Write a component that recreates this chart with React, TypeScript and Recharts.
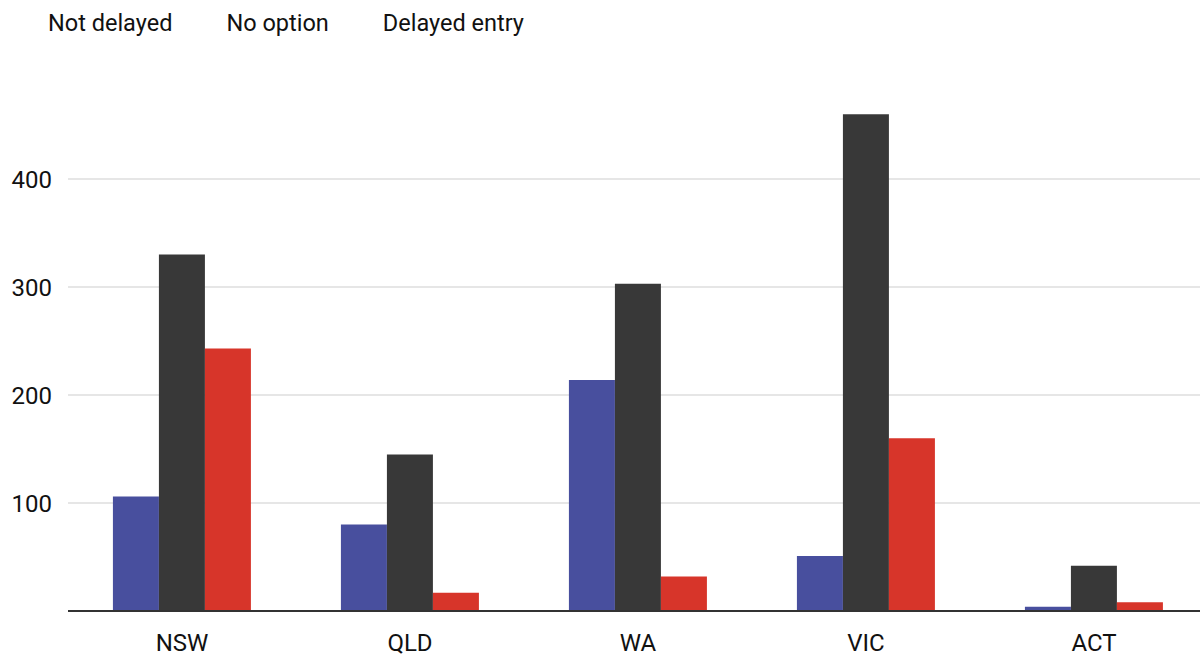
import { BarChart, Bar, XAxis, YAxis, CartesianGrid } from 'recharts';

const states = ['NSW', 'QLD', 'WA', 'VIC', 'ACT'];
const notDelayed = [106, 80, 214, 51, 4];
const noOption = [330, 145, 303, 460, 42];
const delayedEntry = [243, 17, 32, 160, 8];
const yTicks = [100, 200, 300, 400];

const series = [
  { key: 'notDelayed', name: 'Not delayed', color: '#484f9e' },
  { key: 'noOption', name: 'No option', color: '#383838' },
  { key: 'delayedEntry', name: 'Delayed entry', color: '#d7352a' },
];

const data = states.map((state, i) => ({
  state,
  notDelayed: notDelayed[i],
  noOption: noOption[i],
  delayedEntry: delayedEntry[i],
}));

const font = 'Roboto, sans-serif';

export default function App() {
  return (
    <div style={{ position: 'absolute', left: 0, top: 0, width: 1200, height: 657, overflow: 'hidden', background: '#fff' }}>
      <div
        style={{
          position: 'absolute',
          left: 48,
          top: 8,
          display: 'flex',
          fontFamily: font,
          fontSize: 23.5,
          lineHeight: '30px',
          color: '#111',
        }}
      >
        {series.map((s) => (
          <span key={s.key} style={{ marginRight: 54 }}>{s.name}</span>
        ))}
      </div>
      <BarChart
        width={1208}
        height={657}
        data={data}
        margin={{ top: 71, right: 0, bottom: 0, left: 0 }}
        barCategoryGap="19.7%"
        barGap={0}
      >
        <CartesianGrid vertical={false} horizontalValues={yTicks} stroke="#e6e6e6" strokeWidth={2} />
        <XAxis
          dataKey="state"
          axisLine={{ stroke: '#333', strokeWidth: 2 }}
          tickLine={false}
          tickMargin={17}
          height={46}
          tick={{ fontSize: 24, fill: '#111', fontFamily: font }}
        />
        <YAxis
          domain={[0, 500]}
          ticks={yTicks}
          axisLine={false}
          tickLine={false}
          tickMargin={10}
          width={68}
          tick={{ fontSize: 24, fill: '#111', fontFamily: font }}
        />
        {series.map((s) => (
          <Bar key={s.key} dataKey={s.key} name={s.name} fill={s.color} isAnimationActive={false} />
        ))}
      </BarChart>
    </div>
  );
}
